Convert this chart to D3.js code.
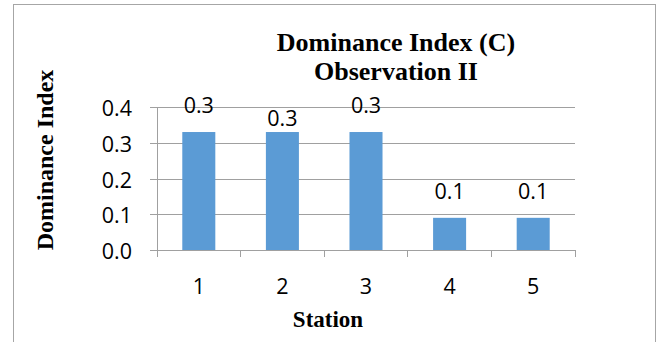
<!DOCTYPE html>
<html>
<head>
<meta charset="utf-8">
<script src="https://cdn.jsdelivr.net/npm/d3@7"></script>
<style>
  html, body { margin: 0; padding: 0; background: #ffffff; }
  svg { display: block; }
</style>
</head>
<body>
<svg id="chart" width="660" height="342"></svg>
<script>
// ---- data ----
const stations = ["1", "2", "3", "4", "5"];
const dominance = [0.33, 0.33, 0.33, 0.09, 0.09];
const yTicks = [0.0, 0.1, 0.2, 0.3, 0.4];
const titleLines = ["Dominance Index (C)", "Observation II"];
const xTitle = "Station";
const yTitle = "Dominance Index";

// ---- layout ----
const W = 660, H = 342;
const plot = { left: 157, right: 575, top: 107, bottom: 250 };
const gridColor = "#a0a0a0";
const barColor = "#5b9bd5";
const tickFont = "'Open Sans', 'Liberation Sans', sans-serif";
const tickSize = 21.5;
const serifFont = "'Liberation Serif', 'Times New Roman', serif";
const labelGap = 19;               // default data-label lift above bar top
const labelGapOverride = { "2": 6 }; // label placed closer to the bar (as in reference)

const svg = d3.select("#chart");

// chart frame
svg.append("rect")
  .attr("x", 13.5).attr("y", 4.5)
  .attr("width", 642).attr("height", 360)
  .attr("fill", "#ffffff")
  .attr("stroke", "#a6a6a6").attr("stroke-width", 1);

const x = d3.scaleBand().domain(stations).range([plot.left, plot.right]).padding(0);
const y = d3.scaleLinear().domain([0, 0.4]).range([plot.bottom, plot.top]);
const barW = x.bandwidth() * 0.395;

// y axis with gridlines
const yAxis = d3.axisLeft(y)
  .tickValues(yTicks)
  .tickFormat(d3.format(".1f"))
  .tickSize(-(plot.right - plot.left))
  .tickPadding(25);

const gy = svg.append("g")
  .attr("transform", `translate(${plot.left},0)`)
  .call(yAxis);
gy.select(".domain").remove();
gy.selectAll(".tick line")
  .attr("x1", -7)
  .attr("stroke", gridColor)
  .attr("shape-rendering", "crispEdges");
gy.selectAll(".tick text")
  .attr("font-family", tickFont)
  .attr("font-size", tickSize)
  .attr("fill", "#000")
  .attr("dy", "0.4em");

// vertical axis line
svg.append("line")
  .attr("x1", plot.left).attr("x2", plot.left)
  .attr("y1", y(0.4)).attr("y2", y(0))
  .attr("stroke", gridColor)
  .attr("shape-rendering", "crispEdges");

// x axis: tick marks at category boundaries
const boundaries = stations.map(s => x(s)).concat([x(stations[stations.length - 1]) + x.bandwidth()]);
svg.append("g").selectAll("line")
  .data(boundaries)
  .join("line")
  .attr("x1", d => d).attr("x2", d => d)
  .attr("y1", y(0)).attr("y2", y(0) + 7)
  .attr("stroke", gridColor)
  .attr("shape-rendering", "crispEdges");

// x tick labels
svg.append("g").selectAll("text")
  .data(stations)
  .join("text")
  .attr("x", d => x(d) + x.bandwidth() / 2)
  .attr("y", y(0) + 44)
  .attr("text-anchor", "middle")
  .attr("font-family", tickFont)
  .attr("font-size", tickSize)
  .attr("fill", "#000")
  .text(d => d);

// bars
svg.append("g").selectAll("rect")
  .data(stations.map((s, i) => ({ s, v: dominance[i] })))
  .join("rect")
  .attr("x", d => x(d.s) + x.bandwidth() / 2 - barW / 2)
  .attr("y", d => y(d.v))
  .attr("width", barW)
  .attr("height", d => y(0) - y(d.v))
  .attr("fill", barColor);

// data labels
svg.append("g").selectAll("text")
  .data(stations.map((s, i) => ({ s, v: dominance[i] })))
  .join("text")
  .attr("x", d => x(d.s) + x.bandwidth() / 2)
  .attr("y", d => y(d.v) - (labelGapOverride[d.s] !== undefined ? labelGapOverride[d.s] : labelGap))
  .attr("text-anchor", "middle")
  .attr("font-family", tickFont)
  .attr("font-size", tickSize)
  .attr("fill", "#000")
  .text(d => d3.format(".1f")(d.v));

// title
svg.append("text")
  .attr("x", 396).attr("y", 51)
  .attr("text-anchor", "middle")
  .attr("font-family", serifFont)
  .attr("font-weight", "bold")
  .attr("font-size", 26)
  .attr("fill", "#000")
  .selectAll("tspan")
  .data(titleLines)
  .join("tspan")
  .attr("x", 396)
  .attr("dy", (d, i) => i === 0 ? 0 : 29)
  .text(d => d);

// x axis title
svg.append("text")
  .attr("x", 328).attr("y", 327)
  .attr("text-anchor", "middle")
  .attr("font-family", serifFont)
  .attr("font-weight", "bold")
  .attr("font-size", 23)
  .attr("fill", "#000")
  .text(xTitle);

// y axis title
svg.append("text")
  .attr("transform", "translate(53,160) rotate(-90)")
  .attr("text-anchor", "middle")
  .attr("font-family", serifFont)
  .attr("font-weight", "bold")
  .attr("font-size", 24)
  .attr("fill", "#000")
  .text(yTitle);
</script>
</body>
</html>
